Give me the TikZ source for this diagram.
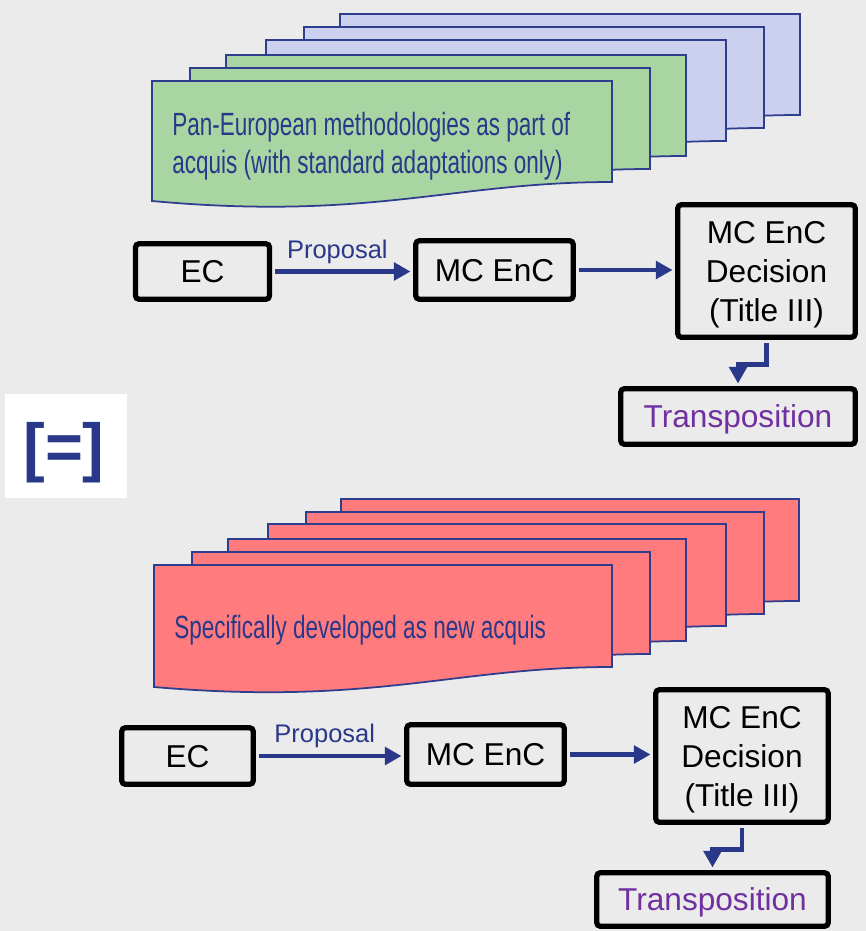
\documentclass[tikz,border=0pt]{standalone}
\usepackage{fontspec}
\setmainfont{Liberation Sans}
\newfontfamily\narrowfont[FakeStretch=0.7]{Liberation Sans}
\usetikzlibrary{positioning}
\usetikzlibrary{arrows.meta}

\definecolor{bggray}{HTML}{EBEBEB}
\definecolor{navy}{HTML}{293889}
\definecolor{sheetline}{HTML}{2F3D8F}
\definecolor{docgreen}{HTML}{A9D5A2}
\definecolor{docblue}{HTML}{CBD0EE}
\definecolor{docred}{HTML}{FF7B7D}
\definecolor{transpurple}{HTML}{7030A0}

\begin{document}
\begin{tikzpicture}[
  x=0.02cm,y=-0.02cm,
  box/.style={draw=black,line width=3pt,rounded corners=2pt,inner sep=0pt,align=center,
    text depth=0pt,font=\fontsize{18}{22.2}\selectfont},
  flow/.style={draw=navy,line width=2.8pt,shorten <=1.5pt,shorten >=1.5pt,
    -{Triangle[length=9.5pt,width=10pt]}},
  sheet/.style={draw=sheetline,line width=1pt},
  note/.style={text=navy,inner sep=0pt,align=left,
    font=\narrowfont\fontsize{18.3}{21.6}\selectfont},
  lbl/.style={text=navy,inner sep=1pt,font=\fontsize{14.5}{16}\selectfont}
]
\useasboundingbox (0,0) rectangle (866,931);
\fill[bggray] (0,0) rectangle (866,931);

% stacked sheets, top
\foreach \dx/\dy/\col in {188/-67/docblue,152/-54/docblue,114/-41/docblue,
                          74/-26/docgreen,38/-13/docgreen,0/0/docgreen}
{
  \begin{scope}[shift={(152+\dx,81+\dy)}]
    \draw[sheet,fill=\col] (0,0) -- (460,0) -- (460,101)
      .. controls (300,101) and (220,140) .. (0,120) -- cycle;
  \end{scope}
}
\node[note,anchor=west] (topnote) at (172,146)
  {Pan-European methodologies as part of\\acquis (with standard adaptations only)};

% stacked sheets, bottom
\foreach \dx/\dy in {187/-66,152/-53,114/-41,74/-26,38/-13,0/0}
{
  \begin{scope}[shift={(154+\dx,565+\dy)}]
    \draw[sheet,fill=docred] (0,0) -- (458,0) -- (458,102)
      .. controls (300,102) and (220,141) .. (0,122) -- cycle;
  \end{scope}
}
\node[note,anchor=base west] (botnote) at (174,638) {Specifically developed as new acquis};

% [=] sign
\fill[white] (5,394) rectangle (127,498);
\node[text=navy,inner sep=0pt,font=\bfseries\fontsize{37}{40}\selectfont] (equiv) at (64,453) {[=]};

% top flow
\node[box,minimum width=2.68cm,minimum height=1.11cm] (ec1) at (202.5,271.5) {EC};
\node[box,minimum width=3.15cm,minimum height=1.17cm] (mc1) at (494.5,270) {MC EnC};
\node[box,minimum width=3.55cm,minimum height=2.65cm] (dec1) at (766.5,271) {MC EnC\\Decision\\(Title III)};
\node[box,minimum width=4.69cm,minimum height=1.11cm,text=transpurple] (tr1) at (738,416.5) {Transposition};

\draw[flow] (ec1.east) -- node[lbl,above=2pt,xshift=-3pt] (prop1) {Proposal} (ec1.east -| mc1.west);
\draw[flow] (mc1.east) -- (mc1.east -| dec1.west);
\draw[flow] (dec1.south) -- ++(0,25) -| (tr1.north);

% bottom flow
\node[box,minimum width=2.63cm,minimum height=1.13cm] (ec2) at (187.5,756) {EC};
\node[box,minimum width=3.15cm,minimum height=1.19cm] (mc2) at (485.5,754.5) {MC EnC};
\node[box,minimum width=3.45cm,minimum height=2.65cm] (dec2) at (742,756) {MC EnC\\Decision\\(Title III)};
\node[box,minimum width=4.63cm,minimum height=1.07cm,text=transpurple] (tr2) at (712.5,899.5) {Transposition};

\draw[flow] (ec2.east) -- node[lbl,above=2pt,xshift=-3pt] (prop2) {Proposal} (ec2.east -| mc2.west);
\draw[flow] (mc2.east) -- (mc2.east -| dec2.west);
\draw[flow] (dec2.south) -- ++(0,25) -| (tr2.north);
\end{tikzpicture}
\end{document}
